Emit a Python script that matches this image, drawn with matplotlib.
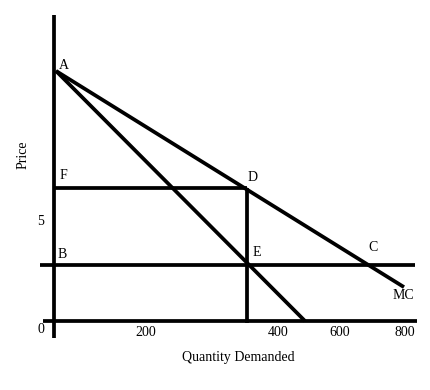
import matplotlib.pyplot as plt

plt.rcParams['font.family'] = ['Liberation Serif', 'DejaVu Serif']

# schematic points (quantity, price)
A = (4, 8.93)
D = (386, 4.75)
E = (386, 2.0)
C = (628, 2.0)
mc_end = (700, 1.21)
mr_end = (502, 0.0)
price_F = 4.75
price_B = 2.0

qty_ticks = [200, 400, 600, 800]
qty_tick_pos = [184, 448, 572, 702]

fig = plt.figure(figsize=(4.31, 3.90), dpi=100)
ax = fig.add_axes([0, 0, 1, 1])
ax.set_xlim(-108, 754)
ax.set_ylim(-2.464, 11.464)
ax.axis('off')

lw = 2.7
# axes
ax.plot([0, 0], [-0.61, 10.93], color='black', lw=lw, solid_capstyle='butt')
ax.plot([-22, 726], [0, 0], color='black', lw=lw, solid_capstyle='butt')
# horizontal lines
ax.plot([-28, 722], [price_B, price_B], color='black', lw=lw, solid_capstyle='butt')
ax.plot([0, D[0]], [price_F, price_F], color='black', lw=lw, solid_capstyle='butt')
# vertical through D and E
ax.plot([D[0], D[0]], [-0.07, D[1]], color='black', lw=lw, solid_capstyle='butt')
# MC and MR
ax.plot([A[0], mc_end[0]], [A[1], mc_end[1]], color='black', lw=lw, solid_capstyle='butt')
ax.plot([A[0], mr_end[0]], [A[1], mr_end[1]], color='black', lw=lw, solid_capstyle='butt')

fs = 10
ax.text(20, 9.14, 'A', fontsize=fs, ha='center', va='center')
ax.text(18, 5.2, 'F', fontsize=fs, ha='center', va='center')
ax.text(D[0] + 12, 5.11, 'D', fontsize=fs, ha='center', va='center')
ax.text(16, 2.36, 'B', fontsize=fs, ha='center', va='center')
ax.text(E[0] + 20, 2.46, 'E', fontsize=fs, ha='center', va='center')
ax.text(C[0] + 10, 2.64, 'C', fontsize=fs, ha='center', va='center')
ax.text(698, 0.9, 'MC', fontsize=fs, ha='center', va='center')
ax.text(-26, 3.54, '5', fontsize=fs, ha='center', va='center')
ax.text(-26, -0.29, '0', fontsize=fs, ha='center', va='center')
for pos, lab in zip(qty_tick_pos, qty_ticks):
    ax.text(pos, -0.4, str(lab), fontsize=fs, ha='center', va='center')
ax.text(368, -1.32, 'Quantity Demanded', fontsize=fs, ha='center', va='center')
ax.text(-62, 5.93, 'Price', fontsize=fs, ha='center', va='center', rotation=90)

fig.savefig('out.png', dpi=100)
